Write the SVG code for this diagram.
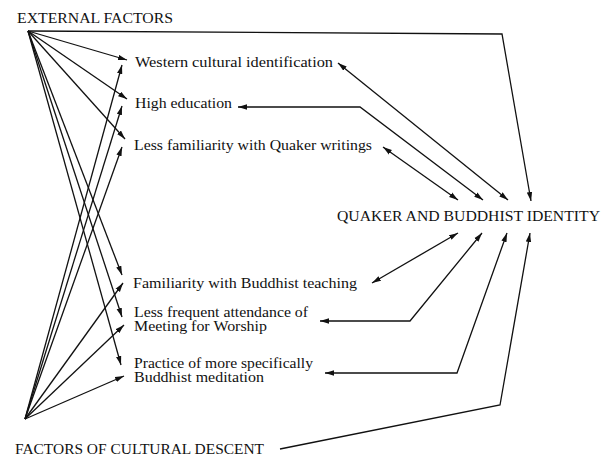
<svg xmlns="http://www.w3.org/2000/svg" width="603" height="457" viewBox="0 0 603 457">
<style>
  text { font-family: "Liberation Serif", "Times New Roman", serif; font-size: 14px; fill: #111; }
  .cap { font-size: 14px; }
  .c { fill: none; stroke: #111; stroke-width: 1.3; stroke-linejoin: miter; }
  .a { marker-end: url(#ah); }
  .b { marker-start: url(#ah); marker-end: url(#ah); }
</style>
<defs>
  <marker id="ah" viewBox="0 0 10 6" refX="10" refY="3" markerWidth="9" markerHeight="6" markerUnits="userSpaceOnUse" orient="auto-start-reverse">
    <path d="M0,0 L10,3 L0,6 z" fill="#111"/>
  </marker>
</defs>
<rect width="603" height="457" fill="#fff"/>

<g id="external-factors"><text class="cap" x="17" y="23" textLength="156" lengthAdjust="spacingAndGlyphs">EXTERNAL FACTORS</text></g>
<g id="cultural-descent"><text class="cap" x="15" y="454" textLength="249" lengthAdjust="spacingAndGlyphs">FACTORS OF CULTURAL DESCENT</text></g>
<g id="identity"><text class="cap" x="337" y="221" textLength="263" lengthAdjust="spacingAndGlyphs">QUAKER AND BUDDHIST IDENTITY</text></g>
<g id="western"><text x="135" y="67" textLength="198" lengthAdjust="spacingAndGlyphs">Western cultural identification</text></g>
<g id="education"><text x="135" y="108" textLength="97" lengthAdjust="spacingAndGlyphs">High education</text></g>
<g id="quaker-writings"><text x="134" y="150" textLength="238" lengthAdjust="spacingAndGlyphs">Less familiarity with Quaker writings</text></g>
<g id="buddhist-teaching"><text x="133" y="288" textLength="224" lengthAdjust="spacingAndGlyphs">Familiarity with Buddhist teaching</text></g>
<g id="attendance"><text x="134" y="317" textLength="174" lengthAdjust="spacingAndGlyphs">Less frequent attendance of</text><text x="134" y="331" textLength="133" lengthAdjust="spacingAndGlyphs">Meeting for Worship</text></g>
<g id="meditation"><text x="134" y="368" textLength="179" lengthAdjust="spacingAndGlyphs">Practice of more specifically</text><text x="134" y="382" textLength="130" lengthAdjust="spacingAndGlyphs">Buddhist meditation</text></g>

<g id="connectors">
  <line class="c a" x1="28" y1="31" x2="127" y2="60"/>
  <line class="c a" x1="28" y1="31" x2="127" y2="99"/>
  <line class="c a" x1="28" y1="31" x2="125" y2="139"/>
  <line class="c a" x1="28" y1="31" x2="122" y2="275"/>
  <line class="c a" x1="28" y1="31" x2="122" y2="317"/>
  <line class="c a" x1="28" y1="31" x2="121" y2="365"/>
  <polyline class="c a" points="28,31 502,34 531,201"/>

  <line class="c a" x1="25" y1="419" x2="122" y2="65"/>
  <line class="c a" x1="25" y1="419" x2="122" y2="106"/>
  <line class="c a" x1="25" y1="419" x2="122" y2="147"/>
  <line class="c a" x1="25" y1="419" x2="123" y2="283"/>
  <line class="c a" x1="25" y1="419" x2="124" y2="325"/>
  <line class="c a" x1="25" y1="419" x2="124" y2="376"/>
  <polyline class="c a" points="280,449 500,405 530,233"/>

  <line class="c b" x1="338" y1="63" x2="508" y2="200"/>
  <polyline class="c b" points="238,107 360,107 483,200"/>
  <line class="c b" x1="383" y1="147" x2="458" y2="200"/>
  <line class="c b" x1="372" y1="283" x2="458" y2="233"/>
  <polyline class="c b" points="320,321 410,321 482,233"/>
  <polyline class="c b" points="325,373 457,373 507,233"/>
</g>
</svg>
